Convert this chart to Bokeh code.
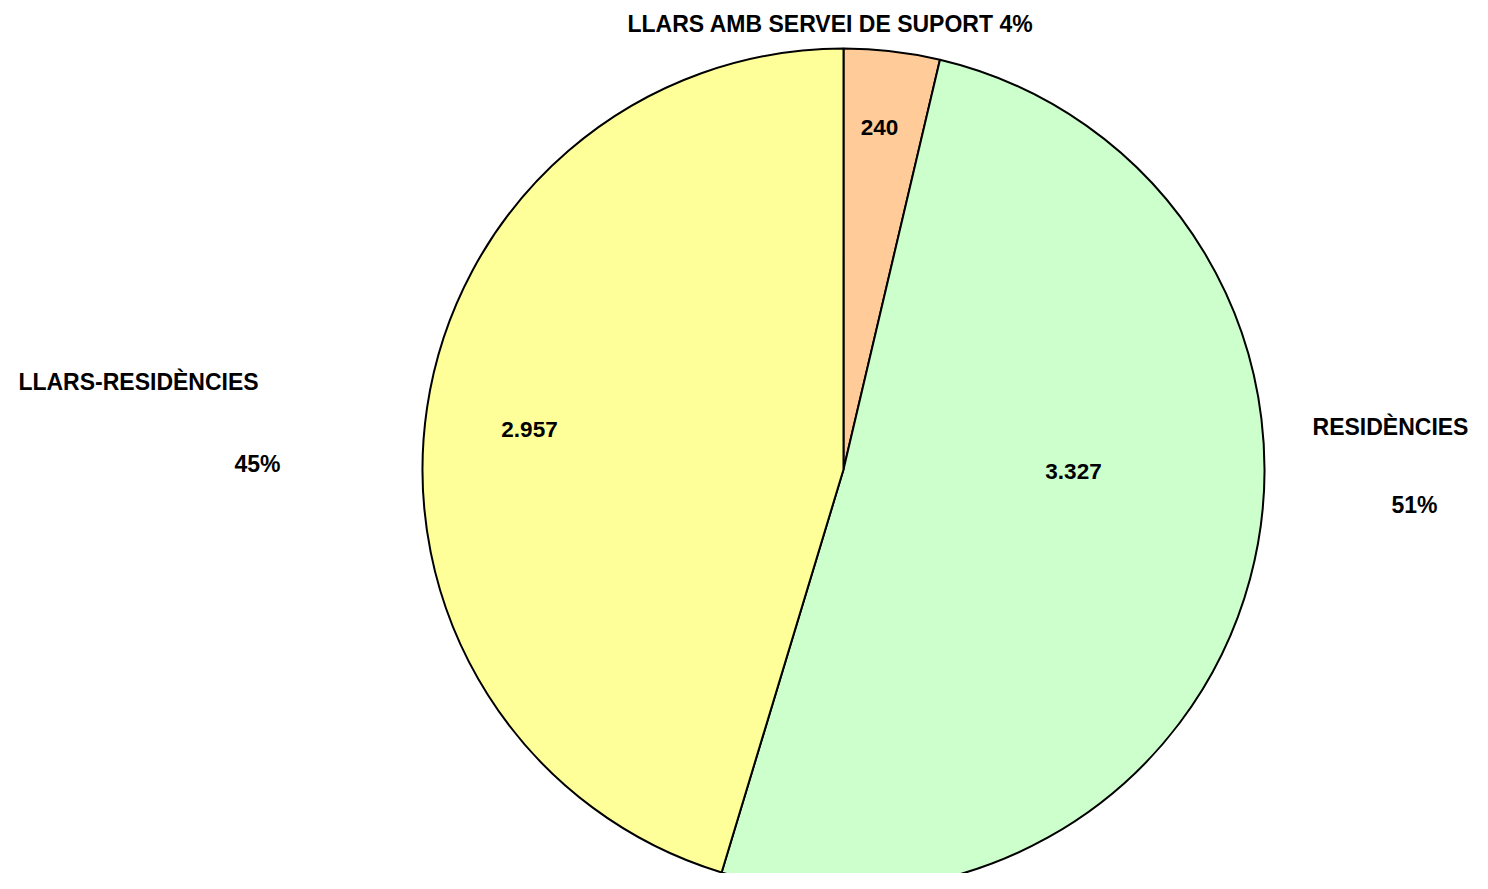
import math
from bokeh.plotting import figure
from bokeh.models import Range1d, ColumnDataSource
from bokeh.core.properties import value
from bokeh.embed import file_html
from bokeh.resources import INLINE

# ---- data ----
categories = ["LLARS AMB SERVEI DE SUPORT", "RESIDÈNCIES", "LLARS-RESIDÈNCIES"]
counts = [240, 3327, 2957]
value_labels = ["240", "3.327", "2.957"]
colors = ["#FFCC99", "#CCFFCC", "#FFFF99"]

# ---- layout constants (screen-pixel based) ----
W, H = 1472, 873
TOP = 889                 # data y at the top edge of the frame
CX, CY = 843, TOP - 469   # centre in data coords (y flipped)
R = 421
FONT = value("Liberation Sans")

total = sum(counts)
starts, ends = [], []
acc = 0.0
for c in counts:
    a0 = math.pi / 2 - 2 * math.pi * acc / total
    acc += c
    a1 = math.pi / 2 - 2 * math.pi * acc / total
    starts.append(a0)
    ends.append(a1)
pcts = [f"{round(100 * c / total)}%" for c in counts]

p = figure(width=W, height=H, output_backend="svg", toolbar_location=None,
           x_range=Range1d(0, W), y_range=Range1d(TOP - H, TOP),
           min_border=0)
p.axis.visible = False
p.grid.visible = False
p.outline_line_color = None
p.background_fill_color = "white"

src = ColumnDataSource(dict(start=starts, end=ends, color=colors))
p.wedge(x=CX, y=CY, radius=R, start_angle="start", end_angle="end",
        direction="clock", fill_color="color", line_color="black",
        line_width=2, source=src)

# value labels inside slices
val_pos = [(879, 127), (1073, 471), (529, 429)]
p.text(x=[v[0] for v in val_pos], y=[TOP - v[1] for v in val_pos],
       text=value_labels, text_font=FONT, text_font_style="bold",
       text_font_size="22.5px", text_align="center", text_baseline="middle",
       text_color="black")

# category labels outside
cat_texts = [f"{categories[0]} {pcts[0]}", categories[1], pcts[1],
             categories[2], pcts[2]]
cat_pos = [(830, 23), (1390, 426), (1414, 504), (138, 381), (257, 463)]
p.text(x=[v[0] for v in cat_pos], y=[TOP - v[1] for v in cat_pos],
       text=cat_texts, text_font=FONT, text_font_style="bold",
       text_font_size="23px", text_align="center", text_baseline="middle",
       text_color="black")

open("out.html", "w").write(file_html(p, INLINE))
